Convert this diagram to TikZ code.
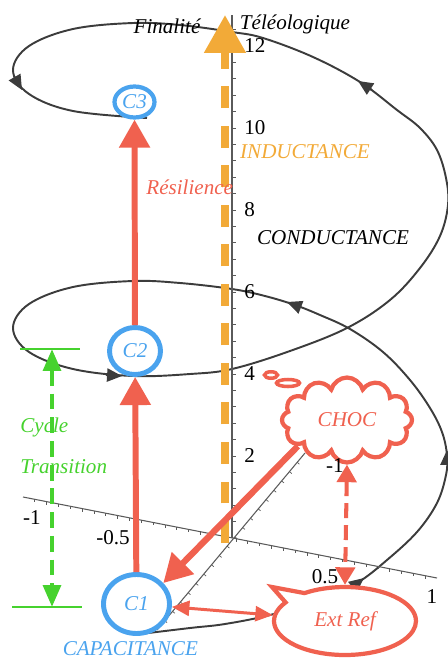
\documentclass[tikz,border=0pt]{standalone}
\usepackage{fontspec}
\setmainfont{Liberation Serif}
\usetikzlibrary{arrows.meta,positioning,calc,shapes.geometric,shapes.callouts,shapes.symbols}
\definecolor{spiralc}{HTML}{3C3C3C}
\definecolor{axisc}{HTML}{5A5A5A}
\definecolor{indc}{HTML}{F2AA38}
\definecolor{shockc}{HTML}{F0614F}
\definecolor{capc}{HTML}{4AA3EE}
\definecolor{cycc}{HTML}{46D22E}
\tikzset{
  >={Triangle[length=16pt,width=17pt]},
  txt/.style={font=\fontsize{12}{14}\selectfont\itshape,inner sep=0pt},
  num/.style={font=\fontsize{12}{14}\selectfont,inner sep=0pt},
  capnode/.style={ellipse,draw=capc,line width=2.8pt,inner sep=0pt,txt,text=capc},
  spiral/.style={draw=spiralc,line width=1.1pt},
  spiraltip/.style={spiral,-{Triangle[length=8.5pt,width=7.5pt]}},
  axisline/.style={draw=axisc,line width=0.6pt},
  tickline/.style={draw=axisc,line width=0.4pt},
  ind/.style={draw=indc,line width=4.5pt,dash pattern=on 12.5pt off 10pt,-{Triangle[length=21.5pt,width=22.7pt]}},
  res/.style={draw=shockc,line width=3.4pt,->},
  refarrow/.style={draw=shockc,line width=1.7pt,{Triangle[length=10pt,width=8.5pt]}-{Triangle[length=10pt,width=8.5pt]}},
  refdash/.style={draw=shockc,line width=2.3pt,dash pattern=on 8.5pt off 4pt,{Triangle[length=10pt,width=11pt]}-{Triangle[length=10pt,width=11pt]}},
  cycarrow/.style={draw=cycc,line width=2.5pt,dash pattern=on 9pt off 4.5pt,{Triangle[length=12.5pt,width=10pt]}-{Triangle[length=12.5pt,width=10pt]}},
  cycline/.style={draw=cycc,line width=1.1pt},
  bubble/.style={draw=shockc,line width=2.4pt,fill=white,txt,text=shockc},
  puff/.style={ellipse,draw=shockc,line width=2pt,fill=white,inner sep=0pt},
}
\begin{document}
\begin{tikzpicture}[x=0.02cm,y=-0.02cm]
  \useasboundingbox (0,0) rectangle (448,660);
  % spirale
  \draw[spiral] plot[smooth,tension=0.6] coordinates {
    (140,634) (190,628) (225,624) (270,615) (320,600) (357,583) (387,560) (417,532)
    (437,503) (446,475) (447,455) (442,432) (430,408) (410,380) (383,352) (350,329)
    (320,315) (295,305) (265,296) (232,289) (180,283) (133,281) (73,287) (29,304)
    (13,328) (29,352) (73,369) (133,376) (190,374) (232,369) (290,351) (347,328)
    (390,300) (420,268) (440,236) (448,205) (446,178) (437,150) (420,128) (397,110)
    (360,82) (313,57) (263,38) (232,32) (180,25) (133,23) (73,29) (29,46)
    (13,70) (29,94) (73,111) (147,118)};
  \draw[spiraltip] (447,465) -- (447,450);
  \draw[spiraltip] (300,307) -- (287,302);
  \draw[spiraltip] (106,375) -- (122,376);
  \draw[spiraltip] (372,90) -- (358,81);
  \draw[spiraltip] (14,76) -- (22,90);
  \draw[spiraltip] (350,589) -- (364,578);
  % axes
  \coordinate (orig) at (232,538);
  \draw[axisline] (orig) -- (232,15);
  \foreach \k in {1,...,31} \draw[tickline] (232,{538-16.4*\k}) -- ++(4,0);
  \foreach \v in {2,4,...,12} \node[num,anchor=west] at (244,{538-41*\v}) {\v};
  \coordinate (xa) at (23,497);
  \coordinate (xb) at (437,578);
  \draw[axisline] (xa) -- (xb);
  \foreach \k in {1,...,34} \draw[tickline] ($(xa)!\k/35!(xb)$) -- ++(0,3);
  \coordinate (ya) at (157,630);
  \coordinate (yb) at (305,453);
  \draw[axisline] (ya) -- (yb);
  \foreach \k in {1,...,18} \draw[tickline] ($(ya)!\k/19!(yb)$) -- ++(2.3,1.9);
  \node[num] at (32,518) {-1};
  \node[num] at (113,538) {-0.5};
  \node[num] at (325,577) {0.5};
  \node[num] at (432,597) {1};
  % inductance
  \draw[ind] (225,543) -- (225,15);
  % noeuds
  \node[capnode,minimum width=1.32cm,minimum height=1.18cm] (c1) at (136.5,604) {C1};
  \node[capnode,minimum width=1.02cm,minimum height=0.94cm] (c2) at (135,351) {C2};
  \node[capnode,minimum width=0.80cm,minimum height=0.62cm,line width=2.4pt] (c3) at (134.5,102) {C3};
  \node[bubble,cloud,cloud puffs=12,cloud ignores aspect,minimum width=2.6cm,minimum height=1.7cm] (choc) at (347,420) {CHOC};
  \node[puff,minimum width=0.46cm,minimum height=0.14cm] (puffa) at (288,383) {};
  \node[puff,minimum width=0.26cm,minimum height=0.13cm] (puffb) at (271,375) {};
  \node[bubble,ellipse callout,minimum width=2.84cm,minimum height=1.36cm,
    callout absolute pointer={(272,587)},callout pointer arc=22] (extref) at (345,621) {Ext Ref};
  % fleches
  \draw[res] (c1) -- (c2);
  \draw[res] (c2) -- node[txt,text=shockc,right=5pt,pos=0.67] (resil) {Résilience} (c3);
  \draw[res,line width=3.6pt] (choc.208) -- (c1.38);
  \draw[refarrow] (c1) -- (extref);
  \draw[refdash] (choc.south) -- (extref.north);
  \node[num] at (335,466) {-1};
  % cycle
  \coordinate (cyctop) at (52,349);
  \coordinate (cycbot) at (52,607);
  \draw[cycline] (20,349) -- (80,349);
  \draw[cycline] (12,607) -- (82,607);
  \draw[cycarrow] (cyctop) -- (cycbot);
  \node[txt,text=cycc,anchor=west] (cyc) at (20,427) {Cycle};
  \node[txt,text=cycc,anchor=west] (trans) at (20,467) {Transition};
  % textes
  \node[txt] (fin) at (167,26) {Finalité};
  \node[txt] (tel) at (295,24) {Téléologique};
  \node[txt] (cond) at (333,238) {CONDUCTANCE};
  \node[txt,text=indc] (indu) at (305,152) {INDUCTANCE};
  \node[txt,text=capc,below=3pt of c1,xshift=-3.5pt] (capa) {CAPACITANCE};
\end{tikzpicture}
\end{document}
